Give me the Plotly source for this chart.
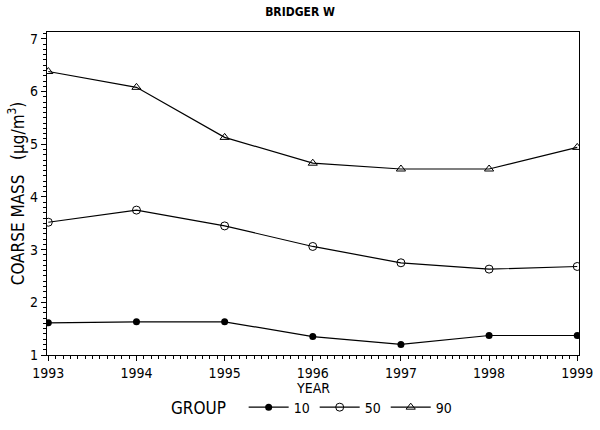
import plotly.graph_objects as go

# --- data ---
years = [1993, 1994, 1995, 1996, 1997, 1998, 1999]
group_10 = [1.61, 1.63, 1.63, 1.35, 1.20, 1.37, 1.37]
group_50 = [3.52, 3.75, 3.45, 3.06, 2.75, 2.63, 2.68]
group_90 = [6.38, 6.08, 5.13, 4.64, 4.53, 4.53, 4.94]

FONT = "DejaVu Sans Condensed, Liberation Sans Narrow, DejaVu Sans, sans-serif"

series = [
    ("10", group_10, dict(symbol="circle", size=7, color="black")),
    ("50", group_50, dict(symbol="circle-open", size=8, color="black", line=dict(width=1))),
    ("90", group_90, dict(symbol="triangle-up-open", size=8, color="black", line=dict(width=1))),
]

fig = go.Figure()
for name, vals, marker in series:
    fig.add_trace(
        go.Scatter(
            x=years,
            y=vals,
            mode="lines+markers",
            name=name,
            line=dict(color="black", width=1.2),
            marker=marker,
        )
    )

# x-axis title as an annotation: standoff is ignored without automargin
fig.add_annotation(
    text="YEAR",
    xref="paper",
    yref="paper",
    x=0.5,
    y=-0.102,
    xanchor="center",
    yanchor="middle",
    showarrow=False,
    font=dict(size=14),
)

fig.update_layout(
    width=600,
    height=430,
    margin=dict(l=47, r=21, t=32, b=75, autoexpand=False),
    paper_bgcolor="white",
    plot_bgcolor="white",
    font=dict(family=FONT, size=14, color="black"),
    title=dict(
        text="<b>BRIDGER W</b>",
        x=0.5,
        xanchor="center",
        y=0.972,
        yanchor="middle",
        font=dict(size=12),
    ),
    legend=dict(
        orientation="h",
        x=0.5,
        xanchor="center",
        yref="container",
        y=0.051,
        yanchor="middle",
        title=dict(text="GROUP  ", side="left"),
        font=dict(size=14),
        itemwidth=40,
    ),
    xaxis=dict(
        automargin=False,
        range=[1992.985, 1999.02],
        tickmode="array",
        tickvals=years,
        ticks="outside",
        ticklen=5,
        tickcolor="black",
        showline=True,
        linecolor="black",
        linewidth=1.2,
        mirror=True,
        showgrid=False,
        zeroline=False,
        minor=dict(dtick=1 / 12, ticks="outside", ticklen=3, tickcolor="black"),
    ),
    yaxis=dict(
        title=dict(text="COARSE MASS   (μg/m<sup>3</sup>)", standoff=1),
        automargin=False,
        range=[1, 7.13],
        tickmode="array",
        tickvals=[1, 2, 3, 4, 5, 6, 7],
        ticks="outside",
        ticklen=5,
        tickcolor="black",
        showline=True,
        linecolor="black",
        linewidth=1.2,
        mirror=True,
        showgrid=False,
        zeroline=False,
        minor=dict(dtick=0.1, ticks="outside", ticklen=3, tickcolor="black"),
    ),
)

# drop the default page margin so the figure sits at the window's corner
fig.write_html(
    "out.html",
    config={"displayModeBar": False},
    post_script="document.body.style.margin='0';",
)
